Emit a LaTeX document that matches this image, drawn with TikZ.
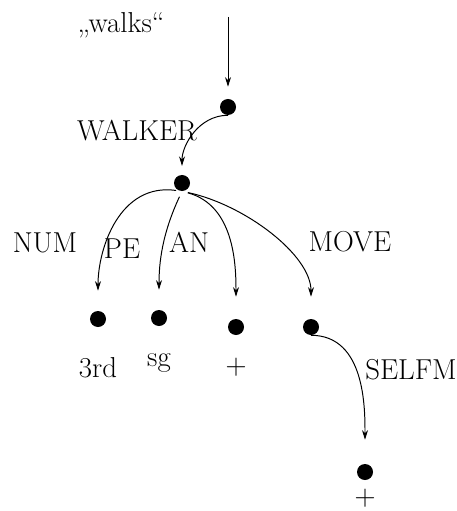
\documentclass[tikz,border=0pt]{standalone}
\usepackage{tikz}
\usetikzlibrary{arrows.meta, positioning}

\begin{document}
\begin{tikzpicture}[
  x=0.025cm, y=-0.025cm,
  arrow/.style={-{Stealth[length=2.4mm, width=1.5mm]}, line width=0.7pt},
  dot/.style={circle, fill=black, inner sep=0pt, minimum size=0.4cm},
  lbl/.style={inner sep=0pt, font=\fontsize{20.5}{24}\selectfont}
]
  \useasboundingbox (0,0) rectangle (456,511);

  % Entry and the word
  \coordinate (entry) at (228,17);
  \node (word) [lbl] at (121,25) {,,walks``};

  % Dots of the feature graph
  \node (root) [dot] at (228,107) {};
  \node (walker) [dot] at (182,183) {};
  \node (num) [dot] at (98,319) {};
  \node (pe) [dot] at (159,318) {};
  \node (an) [dot] at (236,327) {};
  \node (move) [dot] at (311,327) {};
  \node (selfm) [dot] at (365,472) {};

  % Arc labels
  \node (l_walker) [lbl] at (137,131) {WALKER};
  \node (l_num) [lbl] at (45,243) {NUM};
  \node (l_pe) [lbl] at (122,249) {PE};
  \node (l_an) [lbl] at (189,242) {AN};
  \node (l_move) [lbl] at (350,242) {MOVE};
  \node (l_selfm) [lbl] at (411,370) {SELFM};

  % Values
  \node (v_num) [lbl] at (98,368) {3rd};
  \node (v_pe) [lbl] at (159,363) {sg};
  \node (v_an) [lbl] at (236,367) {$+$};
  \node (v_selfm) [lbl] at (365,498) {$+$};

  % Connections
  \draw[arrow, shorten >=0.3cm] (entry) -- (root.north);
  \draw[arrow, shorten >=0.22cm] (root.south) to[out=180, in=90] (walker.north);
  \draw[arrow, shorten <=0.15cm, shorten >=0.5cm] (walker.south) to[out=172, in=90, looseness=1.1] (num.north);
  \draw[arrow, shorten <=0.15cm, shorten >=0.5cm] (walker.south) to[out=245, in=90] (pe.north);
  \draw[arrow, shorten <=0.15cm, shorten >=0.55cm] (walker.south) to[out=-15, in=90] (an.north);
  \draw[arrow, shorten <=0.15cm, shorten >=0.55cm] (walker.south) to[out=-12, in=90, looseness=0.9] (move.north);
  \draw[arrow, shorten >=0.6cm] (move.south) to[out=0, in=90] (selfm.north);

\end{tikzpicture}
\end{document}
